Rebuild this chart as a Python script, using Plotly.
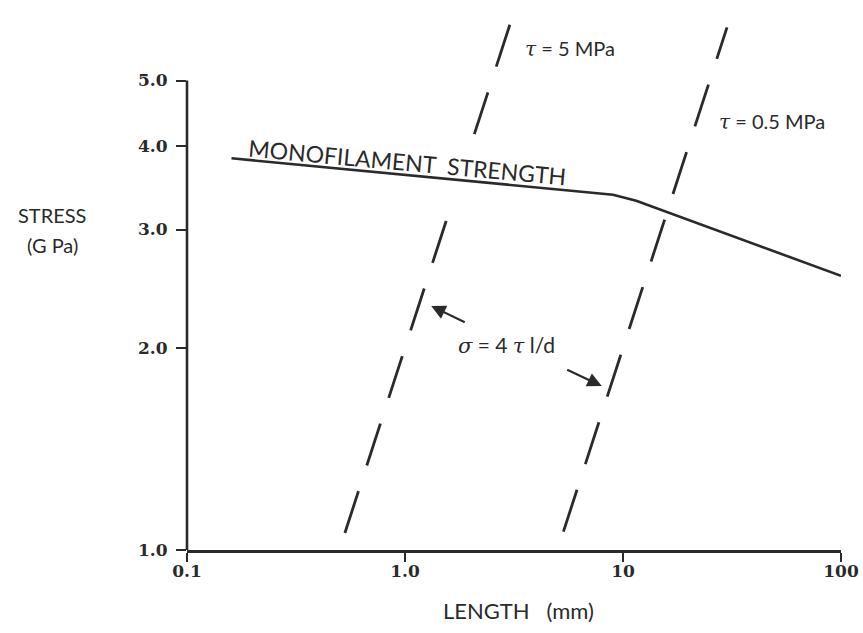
import math
import plotly.graph_objects as go

# ---------------- data ----------------
x_tickvals = [0.1, 1, 10, 100]
x_ticktext = ["0.1", "1.0", "10", "100"]
y_tickvals = [1, 2, 3, 4, 5]
y_ticktext = ["1.0", "2.0", "3.0", "4.0", "5.0"]

# monofilament strength curve (length mm, stress GPa)
mono_length = [0.16, 9.0, 11.5, 100]
mono_stress = [3.83, 3.38, 3.31, 2.56]

# sigma = 4 tau l/d lines (dashed); None = break where the label sits
tau5_length = [0.53, 1.55, None, 2.08, 3.15]
tau5_stress = [1.06, 3.10, None, 4.16, 6.30]
tau05_length = [5.33, 30.0]
tau05_stress = [1.065, 6.0]

# ---------------- layout geometry ----------------
W, H = 863, 633
L, R, T, B = 187, 20, 4, 83
PW, PH = W - L - R, H - T - B
Y_TOP = 6.5          # top of the (invisible) plot range

def px(x):
    return (x - L) / PW

def py(y):
    return (H - B - y) / PH

INK = "#2a2a2a"
SANS = "Lato"
SERIF = "DejaVu Serif"

fig = go.Figure()

fig.add_trace(go.Scatter(x=mono_length, y=mono_stress, mode="lines",
                         line=dict(color=INK, width=2.6), showlegend=False,
                         hoverinfo="skip"))
fig.add_trace(go.Scatter(x=tau5_length, y=tau5_stress, mode="lines",
                         line=dict(color=INK, width=2.8, dash="44px,27px"),
                         showlegend=False, hoverinfo="skip"))
fig.add_trace(go.Scatter(x=tau05_length, y=tau05_stress, mode="lines",
                         line=dict(color=INK, width=2.8, dash="44px,27px"),
                         showlegend=False, hoverinfo="skip"))

tickfont = dict(family=SERIF, size=17, color=INK, weight="bold")

fig.update_xaxes(type="log", range=[-1, 2], showgrid=False, zeroline=False,
                 showline=True, linecolor=INK, linewidth=2.6,
                 ticks="outside", ticklen=9, tickwidth=1.6, tickcolor=INK,
                 ticklabelstandoff=-5,
                 tickvals=x_tickvals, ticktext=x_ticktext, tickfont=tickfont)
fig.update_yaxes(type="log", range=[0, math.log10(Y_TOP)], showgrid=False,
                 zeroline=False, showline=False,
                 ticks="outside", ticklen=10, tickwidth=1.6, tickcolor=INK,
                 ticklabelstandoff=5,
                 tickvals=y_tickvals, ticktext=y_ticktext, tickfont=tickfont)

# y-axis line only from 1.0 to 5.0
fig.add_shape(type="line", xref="x domain", yref="y domain",
              x0=0, x1=0, y0=0, y1=math.log10(5) / math.log10(Y_TOP),
              line=dict(color=INK, width=2.6))

ann = []
def text(x, y, s, size, angle=0, family=SANS):
    ann.append(dict(xref="paper", yref="paper", x=px(x), y=py(y), text=s,
                    showarrow=False, textangle=angle,
                    font=dict(family=family, size=size, color=INK),
                    xanchor="center", yanchor="middle"))

text(52, 215, "STRESS", 20)
text(52, 245, "(G Pa)", 20)
text(520, 610, "LENGTH&nbsp;&nbsp;&nbsp;(mm)", 22)
text(408, 162, "MONOFILAMENT&nbsp;&nbsp;STRENGTH", 23, angle=5.2)
tau = "<span style='font-family:DejaVu Serif;font-style:italic'>τ</span>"
sig = "<span style='font-family:DejaVu Serif;font-style:italic'>σ</span>"
text(571, 48, tau + " = 5 MPa", 20)
text(774, 121, tau + " = 0.5 MPa", 20)
text(507, 345, sig + " = 4 " + tau + " l/d", 21)

def arrow(hx, hy, tx, ty):
    ann.append(dict(xref="paper", yref="paper", x=px(hx), y=py(hy),
                    ax=tx - hx, ay=ty - hy, text="", showarrow=True,
                    arrowhead=2, arrowsize=1.3, arrowwidth=2.2,
                    arrowcolor=INK))

arrow(432, 306, 467, 323)
arrow(603, 386, 567, 369)

fig.update_layout(width=W, height=H, margin=dict(l=L, r=R, t=T, b=B),
                  paper_bgcolor="white", plot_bgcolor="white",
                  annotations=ann, showlegend=False)

fig.write_html("out.html")
